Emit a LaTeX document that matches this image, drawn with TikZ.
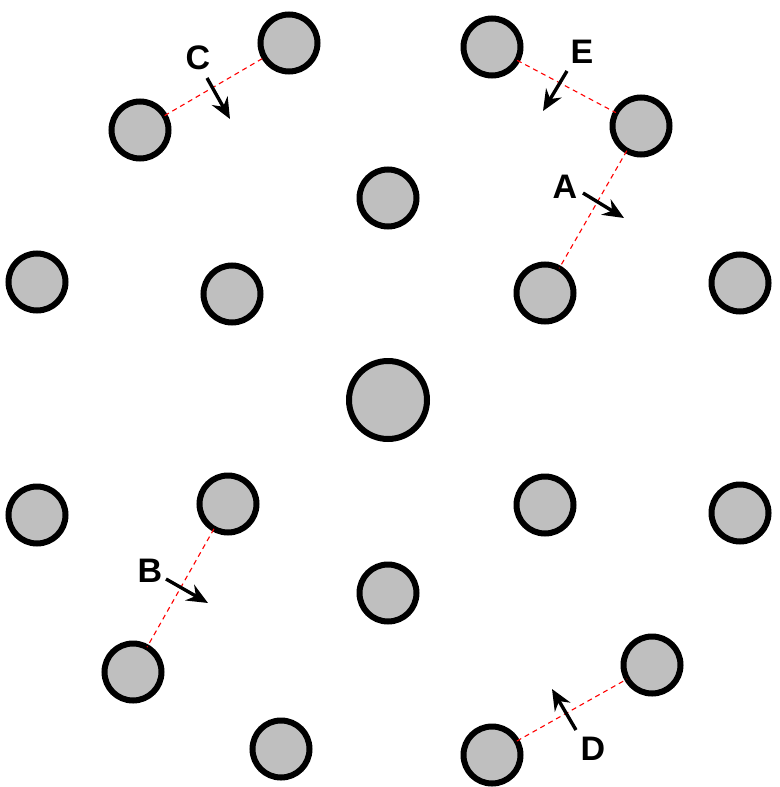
\documentclass[tikz,border=0pt]{standalone}
\usepackage{fontspec}
\setmainfont{Liberation Sans}
\usetikzlibrary{arrows.meta}
\begin{document}
\begin{tikzpicture}[x=1pt,y=-1pt,
  ball/.style={circle,draw=black,fill=black!25,line width=6pt,inner sep=0pt,outer sep=0pt,minimum size=57pt},
  bigball/.style={ball,minimum size=78pt},
  link/.style={red,line width=1.1pt,dash pattern=on 5pt off 4pt},
  move/.style={line width=3.4pt,-{Stealth[length=21pt,width=18pt,inset=7pt]}},
  lab/.style={font=\fontsize{34}{34}\selectfont\bfseries,inner sep=0pt}]
\useasboundingbox (0,0) rectangle (779,787);
\node[ball] (n1) at (289,43) {};
\node[ball] (n2) at (140,130) {};
\node[ball] (n3) at (492,47) {};
\node[ball] (n4) at (641,126) {};
\node[ball] (n5) at (388,198) {};
\node[ball] (n6) at (37,282) {};
\node[ball] (n7) at (232,294) {};
\node[ball] (n8) at (545,293) {};
\node[ball] (n9) at (740,283) {};
\node[bigball] (n10) at (388,400) {};
\node[ball] (n11) at (37,515) {};
\node[ball] (n12) at (228,504) {};
\node[ball] (n13) at (545,505) {};
\node[ball] (n14) at (740,513) {};
\node[ball] (n15) at (388,593) {};
\node[ball] (n16) at (133,672) {};
\node[ball] (n17) at (652,665) {};
\node[ball] (n18) at (281,749) {};
\node[ball] (n19) at (492,755) {};
\draw[link] (n2) -- (n1);
\draw[link] (n3) -- (n4);
\draw[link] (n4) -- (n8);
\draw[link] (n12) -- (n16);
\draw[link] (n19) -- (n17);
\node[lab] (lC) at (198,58) {C};
\node[lab] (lE) at (582,52) {E};
\node[lab] (lA) at (565,187) {A};
\node[lab] (lB) at (150,571) {B};
\node[lab] (lD) at (593,749) {D};
\coordinate (c0) at (207,78); \coordinate (c1) at (230,119);
\coordinate (e0) at (567,71); \coordinate (e1) at (543,111);
\coordinate (a0) at (583,193); \coordinate (a1) at (624,218);
\coordinate (b0) at (166,579); \coordinate (b1) at (208,603);
\coordinate (d0) at (576,730); \coordinate (d1) at (552,689);
\draw[move] (c0) -- (c1);
\draw[move] (e0) -- (e1);
\draw[move] (a0) -- (a1);
\draw[move] (b0) -- (b1);
\draw[move] (d0) -- (d1);
\end{tikzpicture}
\end{document}
